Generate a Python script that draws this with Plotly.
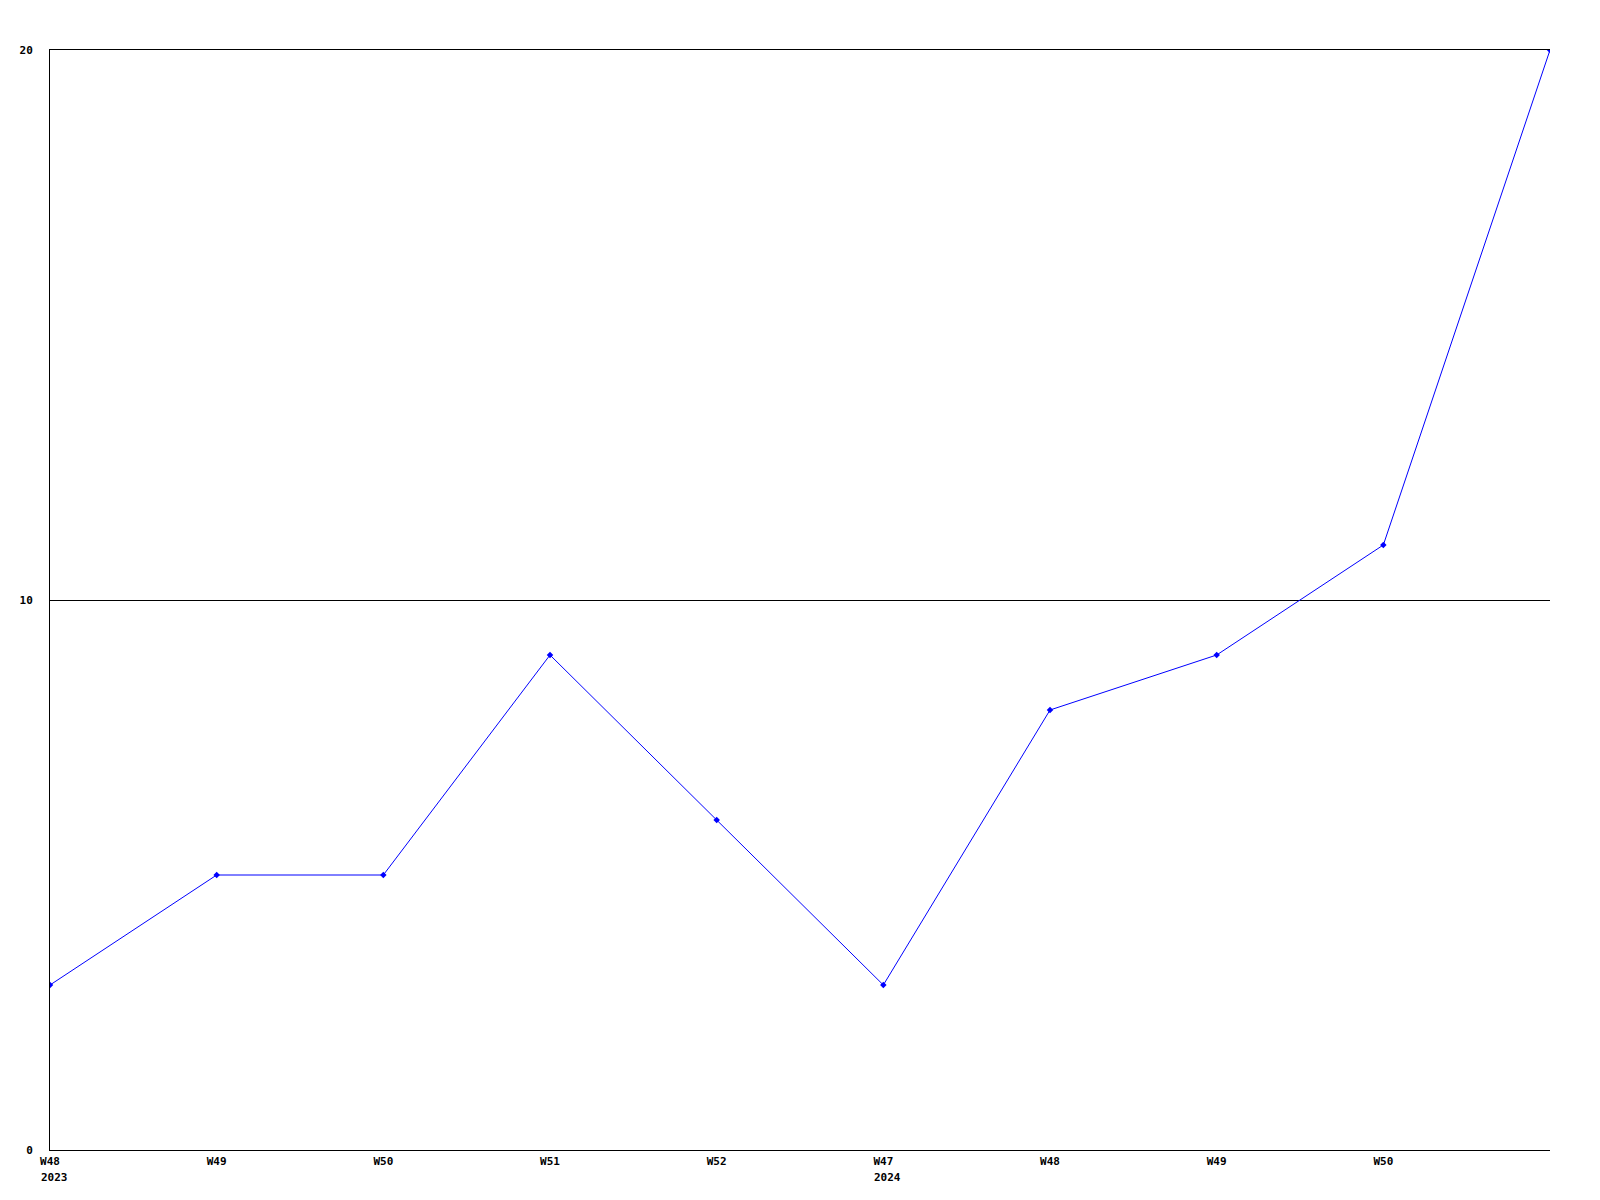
import plotly.graph_objects as go

week_labels = ["W48", "W49", "W50", "W51", "W52", "W47", "W48", "W49", "W50"]
year_labels = {0: "2023", 5: "2024"}
values = [3, 5, 5, 9, 6, 3, 8, 9, 11, 20]
x_pos = list(range(len(values)))

FONT = dict(family="DejaVu Sans Mono", size=11, color="black", weight="bold")

fig = go.Figure()
fig.add_trace(go.Scatter(
    x=x_pos, y=values, mode="lines+markers",
    line=dict(color="#0000ff", width=1),
    marker=dict(symbol="diamond", size=5, color="#0000ff"),
    cliponaxis=True,
    showlegend=False,
))

annotations = []
for idx, yr in year_labels.items():
    annotations.append(dict(
        x=idx, y=0, xref="x", yref="paper", text=yr, showarrow=False,
        xanchor="left", yanchor="top", xshift=-11, yshift=-19, font=FONT,
    ))

fig.update_layout(
    width=1600, height=1200,
    margin=dict(l=42, r=58, t=42, b=58),
    plot_bgcolor="white", paper_bgcolor="white",
    annotations=annotations,
    xaxis=dict(
        range=[0, len(values) - 1],
        tickvals=list(range(len(week_labels))),
        ticktext=week_labels,
        showgrid=False, zeroline=False,
        showline=True, linecolor="black", linewidth=1, mirror=True,
        ticks="", tickfont=FONT, ticklabelstandoff=1,
    ),
    yaxis=dict(
        range=[0, 20], tickvals=[0, 10, 20],
        showgrid=True, gridcolor="black", gridwidth=1,
        zeroline=False, showline=True, linecolor="black", linewidth=1,
        ticks="", tickfont=FONT, ticklabelstandoff=14,
    ),
)

fig.write_html("out.html")
